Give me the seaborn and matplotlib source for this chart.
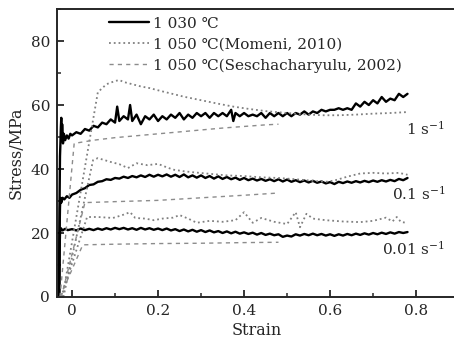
import matplotlib
matplotlib.use("Agg")
import matplotlib.pyplot as plt
import seaborn as sns
from matplotlib.ticker import MultipleLocator
from matplotlib.lines import Line2D

# 1 030 C, measured (solid black), (strain, stress MPa)
c1030_1 = [(-0.030, 0), (-0.029, 30), (-0.028, 44), (-0.027, 48), (-0.026, 53), (-0.025, 56),
           (-0.024, 49), (-0.023, 54), (-0.021, 48), (-0.019, 51), (-0.016, 49), (-0.012, 50.5),
           (-0.008, 49.5), (-0.004, 51), (0.000, 50.5), (0.010, 51.5), (0.020, 51), (0.030, 52.5),
           (0.040, 52), (0.050, 53.5), (0.060, 53), (0.070, 54.5), (0.080, 54), (0.090, 55.5),
           (0.100, 54.5), (0.105, 59.5), (0.110, 55), (0.120, 56.5), (0.130, 55.5), (0.135, 60),
           (0.140, 55), (0.150, 57), (0.160, 54), (0.170, 56.5), (0.180, 55.5), (0.190, 57),
           (0.200, 55), (0.210, 56.5), (0.220, 55.5), (0.230, 57), (0.240, 56), (0.250, 57.5),
           (0.260, 55.5), (0.270, 57), (0.280, 56), (0.290, 57.5), (0.300, 56.5), (0.310, 57.5),
           (0.320, 56), (0.330, 57.5), (0.340, 56.5), (0.350, 57.5), (0.360, 56.5), (0.370, 58.5),
           (0.375, 55), (0.380, 57.5), (0.390, 56.5), (0.400, 57.5), (0.410, 56.5), (0.420, 57),
           (0.430, 56.5), (0.440, 57.5), (0.450, 56), (0.460, 57.5), (0.470, 56.5), (0.480, 57.5),
           (0.490, 56.5), (0.500, 57.5), (0.510, 56.5), (0.520, 57.5), (0.530, 57), (0.540, 58),
           (0.550, 57), (0.560, 58), (0.570, 57.5), (0.580, 58.5), (0.590, 58), (0.600, 58.5),
           (0.610, 58.5), (0.620, 59), (0.630, 58.5), (0.640, 59), (0.650, 58.5), (0.660, 60.5),
           (0.670, 59.5), (0.680, 61), (0.690, 60), (0.700, 61.5), (0.710, 60.5), (0.720, 62.5),
           (0.730, 61), (0.740, 62), (0.750, 61.5), (0.760, 63.5), (0.770, 62.5), (0.780, 63.5)]

c1030_01 = [(-0.030, 0), (-0.029, 20), (-0.028, 28), (-0.027, 31), (-0.025, 29.5), (-0.022, 31),
            (-0.018, 30.5), (-0.012, 31.5), (-0.006, 31), (0.000, 32), (0.010, 32.5), (0.020, 33.5),
            (0.030, 34), (0.040, 35), (0.050, 35.2), (0.060, 36), (0.070, 36.2), (0.080, 36.8),
            (0.090, 36.6), (0.100, 37.2), (0.110, 37), (0.120, 37.6), (0.130, 37.2), (0.140, 37.8),
            (0.150, 37.4), (0.160, 38), (0.170, 37.5), (0.180, 38.2), (0.190, 37.6), (0.200, 38.2),
            (0.210, 37.7), (0.220, 38.3), (0.230, 37.6), (0.240, 38.2), (0.250, 37.5), (0.260, 38.3),
            (0.270, 37.4), (0.280, 38), (0.290, 37.3), (0.300, 38), (0.310, 37.2), (0.320, 37.8),
            (0.330, 37), (0.340, 37.7), (0.350, 36.9), (0.360, 37.5), (0.370, 36.8), (0.380, 37.3),
            (0.390, 36.6), (0.400, 37.2), (0.410, 36.5), (0.420, 37), (0.430, 36.4), (0.440, 36.9),
            (0.450, 36.3), (0.460, 36.8), (0.470, 36.2), (0.480, 36.8), (0.490, 36.1), (0.500, 36.7),
            (0.510, 36), (0.520, 36.5), (0.530, 35.9), (0.540, 36.4), (0.550, 35.8), (0.560, 36.3),
            (0.570, 35.7), (0.580, 36.1), (0.590, 35.5), (0.600, 35.9), (0.610, 35.3), (0.620, 36),
            (0.630, 35.6), (0.640, 36.1), (0.650, 35.7), (0.660, 36.2), (0.670, 35.8), (0.680, 36.3),
            (0.690, 35.9), (0.700, 36.4), (0.710, 36), (0.720, 36.5), (0.730, 36.1), (0.740, 36.6),
            (0.750, 36.2), (0.760, 36.9), (0.770, 36.5), (0.780, 37.2)]

c1030_001 = [(-0.030, 0), (-0.029, 14), (-0.028, 20), (-0.026, 21.5), (-0.022, 20.8), (-0.016, 21.3),
             (-0.010, 20.9), (0.000, 21.2), (0.010, 20.8), (0.020, 21.4), (0.030, 20.9), (0.040, 21.3),
             (0.050, 20.9), (0.060, 21.4), (0.070, 21), (0.080, 21.5), (0.090, 21.1), (0.100, 21.6),
             (0.110, 21.2), (0.120, 21.6), (0.130, 21.1), (0.140, 21.5), (0.150, 21), (0.160, 21.6),
             (0.170, 21.1), (0.180, 21.5), (0.190, 21), (0.200, 21.4), (0.210, 20.9), (0.220, 21.4),
             (0.230, 20.8), (0.240, 21.2), (0.250, 20.6), (0.260, 21.1), (0.270, 20.5), (0.280, 21),
             (0.290, 20.4), (0.300, 20.9), (0.310, 20.3), (0.320, 20.8), (0.330, 20.2), (0.340, 20.6),
             (0.350, 20), (0.360, 20.5), (0.370, 19.9), (0.380, 20.4), (0.390, 19.8), (0.400, 20.2),
             (0.410, 19.7), (0.420, 20.1), (0.430, 19.5), (0.440, 20), (0.450, 19.4), (0.460, 19.8),
             (0.470, 19.3), (0.480, 19.6), (0.490, 18.8), (0.500, 19.2), (0.510, 18.9), (0.520, 19.6),
             (0.530, 19.2), (0.540, 19.7), (0.550, 19.3), (0.560, 19.8), (0.570, 19.3), (0.580, 19.7),
             (0.590, 19.2), (0.600, 19.6), (0.610, 19.1), (0.620, 19.6), (0.630, 19.2), (0.640, 19.7),
             (0.650, 19.3), (0.660, 19.8), (0.670, 19.4), (0.680, 19.9), (0.690, 19.5), (0.700, 20),
             (0.710, 19.6), (0.720, 20.1), (0.730, 19.7), (0.740, 20.2), (0.750, 19.8), (0.760, 20.3),
             (0.770, 20), (0.780, 20.3)]

# 1 050 C, Momeni 2010 (dotted grey)
mom_1 = [(-0.022, 0), (0.060, 64), (0.080, 66.5), (0.100, 67.5), (0.110, 67.8), (0.120, 67.2),
         (0.140, 66.5), (0.160, 65.8), (0.180, 65.3), (0.200, 64.6), (0.230, 63.6), (0.260, 62.6),
         (0.300, 61.5), (0.340, 60.4), (0.375, 59.5), (0.410, 58.8), (0.450, 58.1), (0.500, 57.5),
         (0.540, 57.1), (0.580, 56.8), (0.620, 56.8), (0.660, 57), (0.700, 57.3), (0.740, 57.5),
         (0.780, 57.8)]

mom_01 = [(-0.020, 0), (0.049, 42.8), (0.060, 43.4), (0.075, 42.8), (0.090, 42.2), (0.110, 41.5),
          (0.130, 40.3), (0.150, 41.8), (0.175, 41.2), (0.200, 41.6), (0.215, 40.8), (0.235, 39.8),
          (0.260, 39.3), (0.280, 39), (0.320, 38.5), (0.360, 38), (0.400, 37.8), (0.440, 37.4),
          (0.480, 37.2), (0.520, 36.8), (0.560, 36.3), (0.590, 36), (0.610, 36.4), (0.640, 37.6),
          (0.670, 38.6), (0.700, 38.8), (0.730, 38.6), (0.760, 38.8), (0.780, 38.2)]

mom_001 = [(-0.025, 0), (0.035, 25), (0.060, 25), (0.095, 24.7), (0.115, 25.5), (0.135, 26.5),
           (0.147, 24.7), (0.170, 24.5), (0.190, 24), (0.210, 24.5), (0.235, 24.8), (0.250, 25.6),
           (0.270, 24.5), (0.290, 23.2), (0.320, 23.8), (0.350, 23.5), (0.380, 24), (0.400, 26.5),
           (0.420, 23.2), (0.440, 24.7), (0.470, 23.5), (0.500, 22.8), (0.520, 26.5), (0.530, 21.8),
           (0.545, 26), (0.560, 24.5), (0.590, 24), (0.630, 23.6), (0.670, 23.4), (0.700, 23.8),
           (0.730, 24.8), (0.745, 23.6), (0.755, 25), (0.765, 23.4), (0.780, 23.2)]

# 1 050 C, Seschacharyulu 2002 (dashed grey)
ses_1 = [(-0.028, 0), (0.005, 48), (0.050, 49), (0.100, 49.8), (0.150, 50.4), (0.200, 51),
         (0.250, 51.6), (0.300, 52.2), (0.350, 52.8), (0.400, 53.3), (0.450, 53.8), (0.480, 54)]
ses_01 = [(-0.025, 0), (0.030, 29.5), (0.100, 29.8), (0.200, 30.2), (0.300, 31),
          (0.400, 31.8), (0.480, 32.5)]
ses_001 = [(-0.028, 0), (0.025, 16.3), (0.100, 16.5), (0.200, 16.7), (0.300, 16.8),
           (0.400, 17), (0.480, 17.1)]

legend_labels = ["1 030 \u2103", "1 050 \u2103(Momeni, 2010)", "1 050 \u2103(Seschacharyulu, 2002)"]
rate_labels = ["1 s$^{-1}$", "0.1 s$^{-1}$", "0.01 s$^{-1}$"]
rate_label_pos = [(0.867, 52.5), (0.867, 32.3), (0.867, 15.0)]

sns.set_style("ticks")
plt.rcParams["font.family"] = ["DejaVu Serif"]
plt.rcParams["mathtext.fontset"] = "dejavuserif"

fig = plt.figure(figsize=(4.54, 3.42), dpi=100)
ax = fig.add_axes([0.1256, 0.1316, 0.88, 0.842])

grey_dot = "#808080"
grey_dash = "#8c8c8c"
styles = [
    (c1030_1, "black", "-", 1.7),
    (c1030_01, "black", "-", 1.7),
    (c1030_001, "black", "-", 1.7),
    (mom_1, grey_dot, ":", 1.3),
    (mom_01, grey_dot, ":", 1.3),
    (mom_001, grey_dot, ":", 1.3),
    (ses_1, grey_dash, (0, (3, 3)), 1.0),
    (ses_01, grey_dash, (0, (3, 3)), 1.0),
    (ses_001, grey_dash, (0, (3, 3)), 1.0),
]
for pts, col, ls, lw in styles:
    xs = [p[0] for p in pts]
    ys = [p[1] for p in pts]
    sns.lineplot(x=xs, y=ys, ax=ax, color=col, linestyle=ls, lw=lw,
                 sort=False, estimator=None)

ax.set_xlim(-0.0349, 0.894)
ax.set_ylim(0, 90)
ax.xaxis.set_minor_locator(MultipleLocator(0.1))
ax.yaxis.set_major_locator(MultipleLocator(20))
ax.yaxis.set_minor_locator(MultipleLocator(10))
ax.set_xticks([0, 0.2, 0.4, 0.6, 0.8])
ax.set_xticklabels(["0", "0.2", "0.4", "0.6", "0.8"])
ax.tick_params(which="major", direction="in", length=5, width=1.3, labelsize=11, pad=5)
ax.tick_params(which="minor", direction="in", length=3, width=1.1)
for s in ["left", "bottom", "top"]:
    ax.spines[s].set_linewidth(1.4)
ax.spines["right"].set_visible(False)

ax.set_xlabel("Strain", fontsize=11.5, labelpad=3)
ax.set_ylabel("Stress/MPa", fontsize=11.5, labelpad=4)

for txt, (x, y) in zip(rate_labels, rate_label_pos):
    ax.text(x, y, txt, ha="right", va="center", fontsize=11)

handles = [
    Line2D([], [], color="black", lw=1.7, linestyle="-"),
    Line2D([], [], color=grey_dot, lw=1.3, linestyle=":"),
    Line2D([], [], color=grey_dash, lw=1.0, linestyle=(0, (3, 3))),
]
ax.legend(handles, legend_labels, loc="upper left", bbox_to_anchor=(0.115, 0.995),
          frameon=False, fontsize=11, handlelength=2.6, handletextpad=0.3,
          labelspacing=0.45, borderaxespad=0)

fig.savefig("out.png", dpi=100)
